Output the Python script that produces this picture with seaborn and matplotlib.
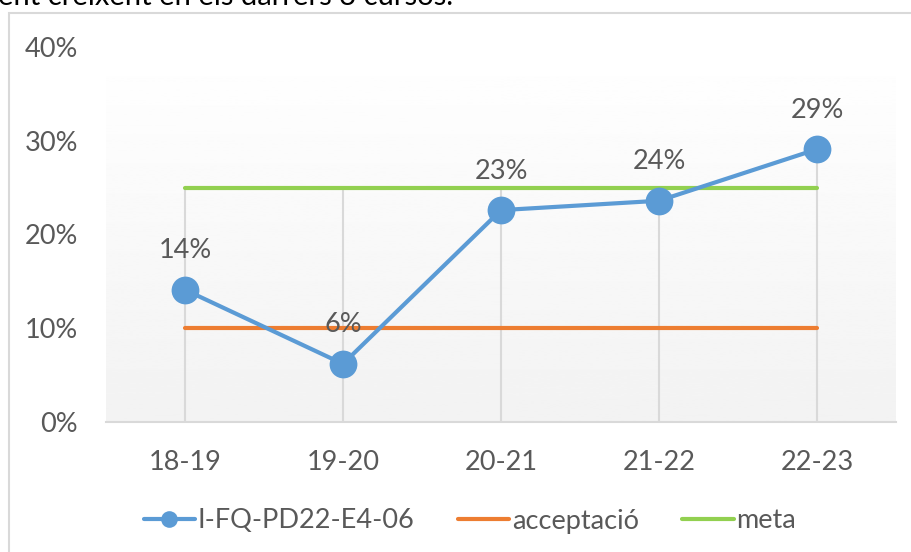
import numpy as np
import pandas as pd
import seaborn as sns
import matplotlib.pyplot as plt
from matplotlib.patches import Rectangle
from matplotlib.lines import Line2D

# dades del gràfic
cursos = ["18-19", "19-20", "20-21", "21-22", "22-23"]
indicador = [0.141, 0.062, 0.226, 0.236, 0.291]
etiquetes = ["14%", "6%", "23%", "24%", "29%"]
acceptacio = [0.10, 0.10, 0.10, 0.10, 0.10]
meta = [0.25, 0.25, 0.25, 0.25, 0.25]
y_ticks = [0, 0.1, 0.2, 0.3, 0.4]
y_labels = ["0%", "10%", "20%", "30%", "40%"]

sns.set_style("white")
plt.rcParams['font.family'] = ['Lato', 'DejaVu Sans']

BLAU = "#5B9BD5"
TARONJA = "#ED7D31"
VERD = "#92D050"
GRIS = "#595959"
MIDA = 19.5

df = pd.DataFrame({"curs": cursos, "x": range(len(cursos)), "valor": indicador})

fig = plt.figure(figsize=(9.11, 5.52), dpi=100)
ax = fig.add_axes([106 / 911, 1 - 422 / 552, 790 / 911, 375 / 552])

# fons degradat de l'àrea de dibuix
grad = np.linspace(1.0, 0.95, 256).reshape(-1, 1)
ax.imshow(grad, cmap="gray", vmin=0, vmax=1, aspect="auto",
          extent=[-0.5, len(cursos) - 0.5, 0, 0.4], origin="upper", zorder=0)

# línies de projecció
maxims = np.maximum.reduce([indicador, acceptacio, meta])
ax.vlines(df["x"], 0, maxims, color="#d9d9d9", lw=1.5, zorder=1)

ax.plot(df["x"], acceptacio, color=TARONJA, lw=3, solid_capstyle="round", zorder=2)
ax.plot(df["x"], meta, color=VERD, lw=3, solid_capstyle="round", zorder=2)
sns.lineplot(data=df, x="x", y="valor", color=BLAU, lw=3, marker="o",
             markersize=20, markeredgewidth=0, ax=ax, zorder=3)

for xi, yi, txt in zip(df["x"], indicador, etiquetes):
    ax.annotate(txt, (xi, yi), xytext=(0, 28), textcoords="offset points",
                ha="center", va="center", fontsize=MIDA, color=GRIS, zorder=4)

ax.set_xlim(-0.5, len(cursos) - 0.5)
ax.set_ylim(0, 0.4)
ax.set_xticks(range(len(cursos)))
ax.set_xticklabels(cursos)
ax.set_yticks(y_ticks)
ax.set_yticklabels(y_labels)
ax.tick_params(axis="x", length=0, pad=20, labelsize=MIDA, colors=GRIS)
ax.tick_params(axis="y", length=0, pad=20, labelsize=MIDA, colors=GRIS)
ax.set_xlabel("")
ax.set_ylabel("")
for s in ["top", "right", "left"]:
    ax.spines[s].set_visible(False)
ax.spines["bottom"].set_color("#d9d9d9")
ax.spines["bottom"].set_linewidth(1.5)
ax.spines["bottom"].set_zorder(1)

# llegenda
handles = [
    Line2D([], [], color=BLAU, lw=3, marker="o", markersize=12, markeredgewidth=0),
    Line2D([], [], color=TARONJA, lw=3),
    Line2D([], [], color=VERD, lw=3),
]
fig.legend(handles, ["I-FQ-PD22-E4-06", "acceptació", "meta"], loc="center",
           bbox_to_anchor=(470 / 911, 1 - 521 / 552), ncol=3, frameon=False,
           fontsize=MIDA, labelcolor=GRIS, handlelength=1.9, handletextpad=0.1,
           columnspacing=1.6)

# marc del gràfic i text del document
fig.patches.append(Rectangle((9 / 911, -0.1), 1.0, 1 - 13 / 552 + 0.1,
                             transform=fig.transFigure, fill=False,
                             edgecolor="#d9d9d9", lw=1.5))
fig.text(-2 / 911, 1 - 5 / 552, "ent creixent en els darrers 3 cursos.",
         ha="left", va="baseline", fontsize=21, color="black")

fig.savefig("out.png", dpi=100)
